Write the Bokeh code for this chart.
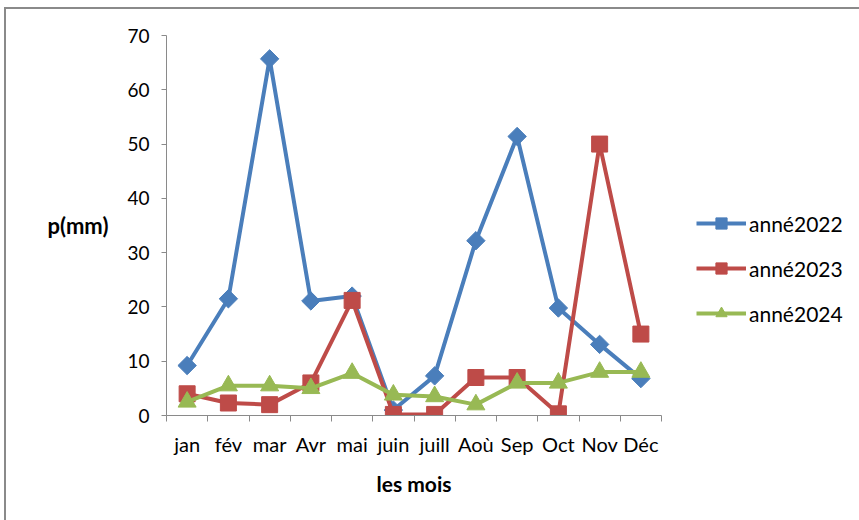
import math
from bokeh.plotting import figure
from bokeh.models import FixedTicker, Legend, LegendItem, Range1d
from bokeh.embed import file_html
from bokeh.resources import INLINE

months = ["jan", "fév", "mar", "Avr", "mai", "juin", "juill", "Aoù", "Sep", "Oct", "Nov", "Déc"]
y2022 = [9.2, 21.5, 65.7, 21.1, 22.0, 1.0, 7.3, 32.2, 51.4, 19.8, 13.1, 6.8]
y2023 = [4.0, 2.3, 2.0, 6.0, 21.2, 0.2, 0.2, 7.0, 7.0, 0.3, 50.0, 15.0]
y2024 = [2.5, 5.5, 5.5, 5.0, 7.8, 3.8, 3.5, 2.0, 6.0, 6.0, 8.0, 8.0]
series_names = ["anné2022", "anné2023", "anné2024"]
y_ticks = [0, 10, 20, 30, 40, 50, 60, 70]

FONT = "Lato"
OX, OY = 6, 9
W, H = 859 - OX, 520 - OY
FL, FR, FT, FB = 166 - OX, 661 - OX, 35 - OY, 415 - OY

xs = [i + 0.5 for i in range(len(months))]

p = figure(frame_width=FR - FL, frame_height=FB - FT, output_backend="svg",
           toolbar_location=None,
           x_range=Range1d(0, len(months)), y_range=Range1d(0, 70),
           min_border_left=FL, min_border_right=W - FR, min_border_top=FT,
           min_border_bottom=H - FB)
p.styles = {"margin-left": "4px", "margin-top": "7px",
            "border-left": "2px solid #8a8a8a", "border-top": "2px solid #8a8a8a"}
p.outline_line_color = None
p.xgrid.grid_line_color = None
p.ygrid.grid_line_color = None

# x axis
p.xaxis.ticker = FixedTicker(ticks=xs, minor_ticks=list(range(len(months) + 1)))
p.xaxis.major_label_overrides = {x: m for x, m in zip(xs, months)}
p.xaxis.major_tick_out = 0
p.xaxis.major_tick_in = 0
p.xaxis.minor_tick_out = 6
p.xaxis.minor_tick_in = 0
p.xaxis.minor_tick_line_color = "#8a8a8a"
p.xaxis.axis_line_color = "#8a8a8a"
p.xaxis.major_label_text_font = FONT
p.xaxis.major_label_text_font_size = "20px"
p.xaxis.major_label_text_color = "#000000"
p.xaxis.major_label_standoff = 10
p.xaxis.axis_label = "les mois"
p.xaxis.axis_label_text_font = FONT
p.xaxis.axis_label_text_font_size = "21px"
p.xaxis.axis_label_text_font_style = "bold"
p.xaxis.axis_label_text_color = "#000000"
p.xaxis.axis_label_standoff = 12

# y axis
p.yaxis.ticker = FixedTicker(ticks=y_ticks)
p.yaxis.major_tick_out = 5
p.yaxis.major_tick_in = 0
p.yaxis.minor_tick_line_color = None
p.yaxis.major_tick_line_color = "#8a8a8a"
p.yaxis.axis_line_color = "#8a8a8a"
p.yaxis.major_label_text_font = FONT
p.yaxis.major_label_text_font_size = "19px"
p.yaxis.major_label_text_color = "#000000"
p.yaxis.major_label_standoff = 12
p.yaxis.axis_label = "p(mm)"
p.yaxis.axis_label_orientation = "horizontal"
p.yaxis.axis_label_text_font = FONT
p.yaxis.axis_label_text_font_size = "22px"
p.yaxis.axis_label_text_font_style = "bold"
p.yaxis.axis_label_text_color = "#000000"
p.yaxis.axis_label_standoff = 16

colors = ["#4A7EBB", "#BE4B48", "#98B954"]
markers = ["square", "square", "triangle"]
angles = [math.pi / 4, 0, 0]
sizes = [13, 16, 18]
items = []
for ys, name, c, m, a, s in zip([y2022, y2023, y2024], series_names, colors, markers, angles, sizes):
    r1 = p.line(xs, ys, line_color=c, line_width=4)
    r2 = p.scatter(xs, ys, marker=m, angle=a, size=s, fill_color=c, line_color=c)
    items.append(LegendItem(label=name, renderers=[r1, r2]))

legend = Legend(items=items, location=(35, 88), orientation="vertical",
                glyph_width=50, glyph_height=28, label_standoff=3, spacing=17,
                label_text_font=FONT, label_text_font_size="21px",
                label_text_color="#000000", border_line_color=None,
                background_fill_alpha=0, padding=0, margin=0)
p.add_layout(legend, "right")

open("out.html", "w").write(file_html(p, INLINE))
